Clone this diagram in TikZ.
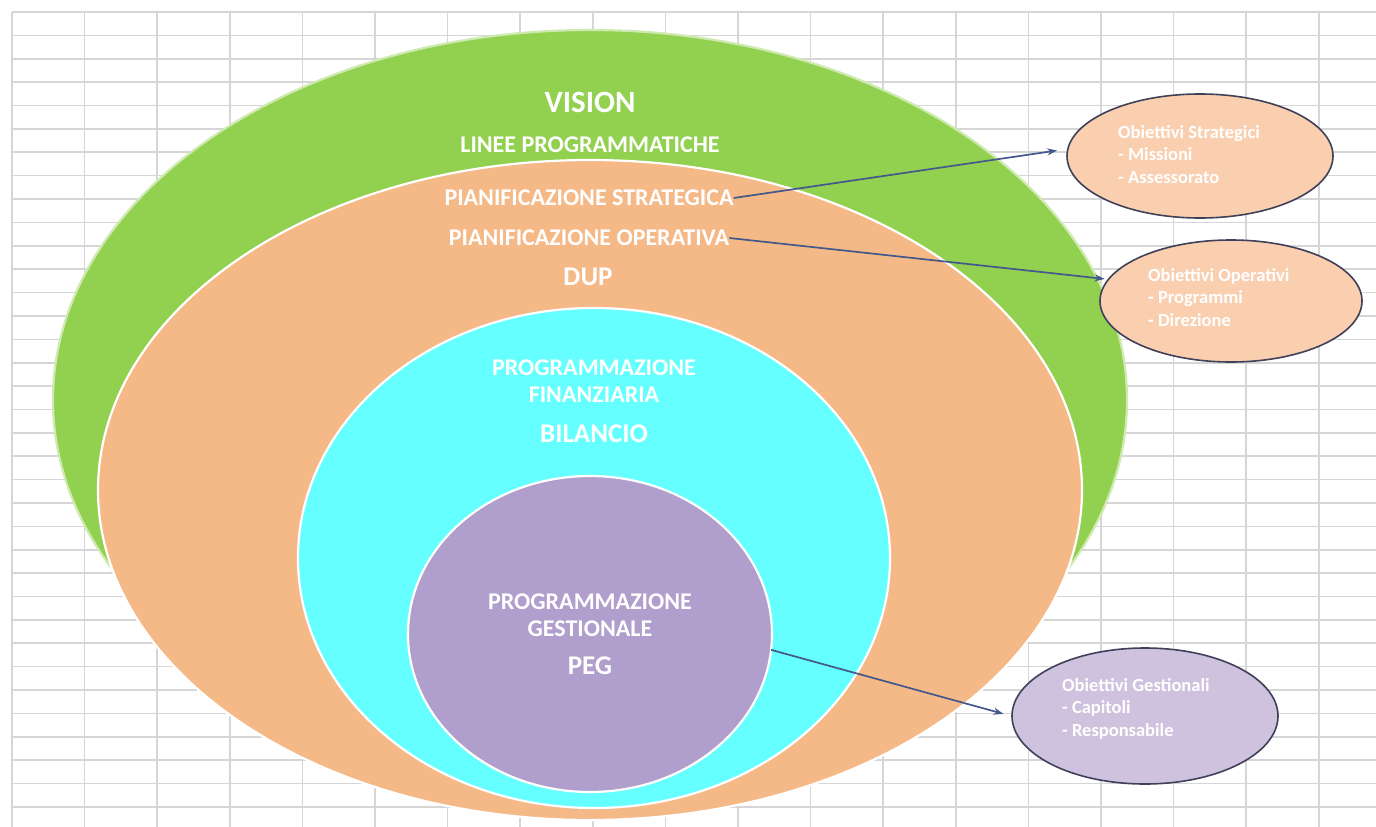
\documentclass[tikz,border=0pt]{standalone}
\usepackage{fontspec}
\setmainfont{Carlito}
\usetikzlibrary{shapes.geometric,arrows.meta}
\begin{document}
\begin{tikzpicture}[x=1pt,y=-1pt,
  ring/.style={ellipse,inner sep=0pt,outer sep=0pt,line width=2.2pt},
  ringtext/.style={text=white,font=\bfseries\fontsize{24}{27}\selectfont,inner sep=0pt,align=center},
  bigtext/.style={ringtext,font=\bfseries\fontsize{27}{30}\selectfont},
  goal/.style={ellipse,inner sep=0pt,draw=goalBorder,line width=1.6pt},
  goaltext/.style={text=white,font=\bfseries\fontsize{18.5}{22.5}\selectfont,inner sep=0pt,align=left,anchor=base west},
  gridline/.style={draw=gridColor,line width=1.6pt},
  link/.style={draw=linkColor,line width=1.7pt,-{Stealth[length=10pt,width=7pt]}}]
\definecolor{gridColor}{RGB}{214,214,214}
\definecolor{greenFill}{RGB}{146,208,80}
\definecolor{orangeFill}{RGB}{245,185,135}
\definecolor{cyanFill}{RGB}{102,255,255}
\definecolor{purpleFill}{RGB}{176,158,204}
\definecolor{goalOrange}{RGB}{249,207,176}
\definecolor{goalPurple}{RGB}{206,194,222}
\definecolor{goalBorder}{RGB}{64,64,90}
\definecolor{linkColor}{RGB}{68,88,140}

\path[use as bounding box,fill=white] (0,0) rectangle (1376,827);

% spreadsheet grid
\foreach \i in {0,...,18}
  \path[gridline] ({12+72.6*\i},12) -- ({12+72.6*\i},827);
\foreach \j in {0,...,34}
  \path[gridline] (12,{12+23.38*\j}) -- (1376,{12+23.38*\j});

% nested rings
\node[ring,fill=greenFill,draw=greenFill!45!white,minimum width=1074pt,minimum height=740pt] (visionring) at (590,400) {};
\node[ring,fill=orangeFill,draw=white,minimum width=984pt,minimum height=660pt] (dupring) at (590,490) {};
\node[ring,fill=cyanFill,draw=white,minimum width=592pt,minimum height=500pt] (bilring) at (594,558) {};
\node[ring,fill=purpleFill,draw=white,minimum width=364pt,minimum height=316pt] (pegring) at (590,634) {};

% ring labels
\node[bigtext,font=\bfseries\fontsize{31}{34}\selectfont] (vision) at (590,102) {VISION};
\node[ringtext] (linee) at (590,145) {LINEE PROGRAMMATICHE};
\node[ringtext] (pstrat) at (589,198) {PIANIFICAZIONE STRATEGICA};
\node[ringtext] (poper) at (589,238) {PIANIFICAZIONE OPERATIVA};
\node[bigtext] (dup) at (588,277) {DUP};
\node[ringtext] (progfin) at (594,381) {PROGRAMMAZIONE\\FINANZIARIA};
\node[bigtext] (bilancio) at (594,434) {BILANCIO};
\node[ringtext] (proggest) at (590,615) {PROGRAMMAZIONE\\GESTIONALE};
\node[bigtext] (peg) at (590,666) {PEG};

% objectives
\node[goal,fill=goalOrange,minimum width=266pt,minimum height=124pt] (obstr) at (1200,156) {};
\node[goaltext] (obstrtext) at (1118,183) {Obiettivi Strategici\\ - Missioni\\ - Assessorato};
\node[goal,fill=goalOrange,minimum width=262pt,minimum height=122pt] (obop) at (1231,301) {};
\node[goaltext] (oboptext) at (1148,326) {Obiettivi Operativi\\ - Programmi\\ - Direzione};
\node[goal,fill=goalPurple,minimum width=266pt,minimum height=136pt] (obges) at (1145,716) {};
\node[goaltext] (obgestext) at (1062,736) {Obiettivi Gestionali\\ - Capitoli\\ - Responsabile};

% links
\draw[link,shorten >=10pt] (pstrat.east) -- (obstr.177);
\draw[link,shorten >=3pt] (poper.east) -- (obop.170);
\draw[link,shorten >=8pt] (pegring.-5) -- (obges.west);
\end{tikzpicture}
\end{document}
